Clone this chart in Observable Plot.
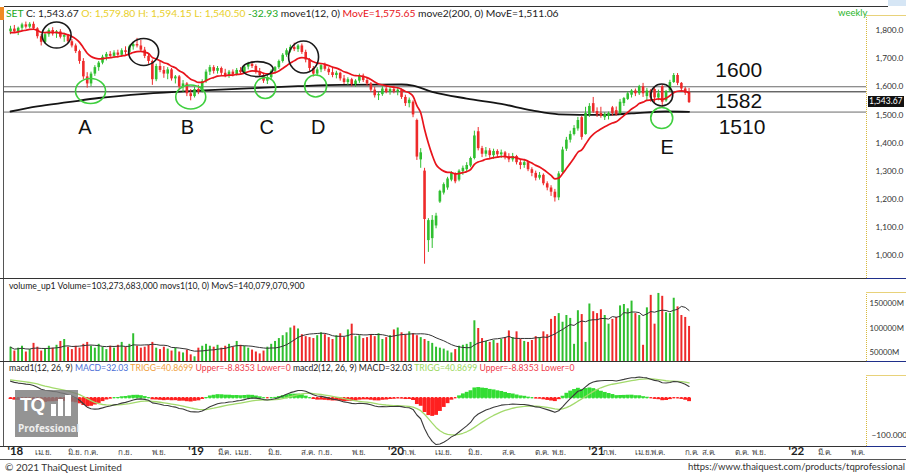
<!DOCTYPE html>
<html><head><meta charset="utf-8">
<script src="https://cdn.jsdelivr.net/npm/d3@7"></script>
<script src="https://cdn.jsdelivr.net/npm/@observablehq/plot@0.6"></script>
<style>
body{margin:0;background:#fff;}
#wrap{position:relative;width:906px;height:475px;overflow:hidden;background:#fff;font-family:Lato,"Open Sans","Noto Sans",sans-serif;color:#222;}
#wrap svg{position:absolute;left:0;}
.ln{position:absolute;}
.txt{position:absolute;white-space:nowrap;font-size:9.5px;line-height:12px;}
</style></head><body><div id="wrap"></div>
<script>
// ---------------- DATA (weekly SET index, from 2018-02-16) ----------------
const firstWeek = "2018-02-16";
const open = [1795,1805,1795,1808,1820,1812,1822,1806,1778,1758,1785,1800,1788,1795,1776,1782,1760,1745,1725,1690,
1635,1610,1645,1668,1684,1705,1715,1708,1720,1712,1728,1722,1742,1750,1745,1730,1708,1690,1625,1672,
1658,1645,1660,1628,1635,1600,1610,1575,1565,1590,1582,1618,1652,1668,1655,1665,1648,1640,1652,1642,
1658,1650,1670,1680,1672,1652,1640,1620,1632,1655,1668,1690,1712,1728,1740,1732,1745,1722,1695,1665,
1645,1660,1675,1662,1650,1640,1648,1628,1615,1625,1608,1620,1638,1622,1610,1588,1568,1572,1592,1580,
1590,1582,1588,1562,1540,1545,1480,1340,1300,1053,1060,1105,1190,1222,1240,1268,1290,1268,1298,1305,
1318,1345,1440,1380,1360,1372,1355,1370,1358,1365,1350,1340,1352,1330,1320,1330,1305,1292,1275,1285,
1255,1240,1225,1205,1295,1378,1410,1430,1450,1490,1430,1500,1540,1512,1505,1490,1495,1525,1515,1505,
1540,1555,1570,1585,1575,1600,1565,1585,1590,1560,1600,1550,1585,1615,1640,1612,1592,1579.80];
const high = [1815,1818,1812,1826,1830,1828,1830,1810,1785,1790,1806,1810,1800,1803,1790,1786,1768,1752,1730,1700,
1650,1652,1675,1690,1712,1722,1725,1728,1730,1735,1742,1748,1758,1772,1765,1740,1715,1695,1680,1690,
1672,1668,1665,1640,1640,1622,1615,1590,1598,1605,1625,1660,1676,1675,1672,1670,1662,1658,1660,1665,
1668,1675,1687,1690,1678,1665,1648,1640,1660,1672,1695,1718,1735,1748,1755,1750,1752,1730,1700,1672,
1668,1682,1684,1668,1665,1655,1652,1640,1632,1630,1625,1645,1645,1630,1615,1598,1580,1600,1605,1598,
1602,1595,1592,1570,1560,1550,1485,1380,1310,1131,1142,1150,1232,1258,1278,1298,1294,1305,1318,1330,
1350,1442,1455,1388,1384,1380,1378,1376,1375,1370,1362,1363,1356,1340,1338,1335,1312,1300,1295,1290,
1262,1248,1235,1298,1385,1420,1442,1462,1491,1495,1527,1540,1562,1525,1527,1508,1510,1530,1528,1555,
1562,1582,1590,1592,1605,1612,1594,1590,1598,1588,1605,1587,1623,1647,1647,1615,1598,1594.15];
const low = [1785,1790,1782,1800,1805,1806,1800,1770,1745,1752,1776,1780,1772,1770,1758,1755,1738,1718,1680,1625,
1595,1600,1637,1655,1678,1692,1700,1700,1702,1706,1712,1716,1730,1738,1722,1700,1680,1605,1618,1650,
1630,1625,1620,1610,1590,1580,1565,1550,1560,1572,1578,1612,1640,1645,1645,1640,1632,1630,1635,1638,
1645,1646,1660,1665,1645,1635,1612,1608,1625,1645,1662,1684,1705,1720,1725,1722,1715,1685,1655,1635,
1640,1650,1655,1640,1632,1628,1620,1608,1605,1600,1598,1612,1615,1602,1580,1560,1551,1566,1575,1570,
1575,1568,1555,1530,1525,1490,1338,1310,969,1011,1025,1095,1185,1215,1232,1262,1255,1262,1285,1298,
1312,1340,1372,1348,1350,1345,1342,1348,1345,1340,1330,1332,1322,1305,1310,1298,1280,1265,1268,1248,
1230,1210,1190,1195,1290,1370,1400,1425,1442,1410,1428,1491,1505,1491,1488,1480,1482,1495,1495,1500,
1530,1551,1560,1565,1569,1562,1550,1545,1540,1550,1527,1545,1580,1612,1604,1580,1569,1540.50];
const close = [1805,1795,1808,1820,1812,1822,1806,1778,1758,1785,1800,1788,1795,1776,1782,1760,1745,1725,1690,1635,
1610,1645,1668,1684,1705,1715,1708,1720,1712,1728,1722,1742,1750,1745,1730,1708,1690,1625,1672,1658,
1645,1660,1628,1635,1600,1610,1575,1565,1590,1582,1618,1652,1668,1655,1665,1648,1640,1652,1642,1658,
1650,1670,1680,1672,1652,1640,1620,1632,1655,1668,1690,1712,1728,1740,1732,1745,1722,1695,1665,1645,
1660,1675,1662,1650,1640,1648,1628,1615,1625,1608,1620,1638,1622,1610,1588,1568,1572,1592,1580,1590,
1582,1588,1562,1540,1552,1500,1350,1365,1128,1124,1125,1140,1228,1252,1272,1292,1262,1300,1310,1320,
1345,1425,1380,1360,1372,1355,1370,1358,1365,1350,1340,1352,1330,1320,1330,1305,1292,1275,1285,1255,
1240,1225,1205,1290,1375,1410,1430,1452,1480,1420,1505,1530,1510,1500,1495,1502,1505,1505,1500,1545,
1558,1575,1585,1575,1600,1575,1585,1560,1560,1575,1545,1582,1615,1640,1612,1592,1576.60,1543.67];
// weekly volume, billion shares
const volume = [60,52,58,62,50,55,68,60,52,56,62,
58,64,72,76,60,55,62,58,66,70,
62,58,66,60,55,62,58,64,70,60,
66,88,62,58,60,64,70,58,55,60,
56,52,58,50,48,54,44,40,58,62,
66,62,60,64,58,62,66,60,72,64,
62,58,54,50,46,52,60,66,72,78,
84,90,100,104,98,86,82,80,78,84,
90,86,80,76,84,88,80,96,108,82,
84,78,80,86,82,88,76,80,84,96,
100,90,86,92,88,84,80,76,72,68,
60,58,56,52,48,55,62,64,66,70,
115,99,78,72,70,74,68,76,80,94,
80,92,76,72,70,74,82,80,92,86,
118,124,130,112,126,120,66,136,128,70,
150,134,130,138,126,108,118,122,146,149,
140,156,130,126,64,142,168,108,172,166,
132,130,162,144,126,122,103.27];
// 200-week moving average
const ma200Dates = ["2018-02-16","2018-04-06","2018-06-01","2018-07-27","2018-10-19","2019-01-25","2019-04-26","2019-07-26","2019-10-11","2020-01-31","2020-02-21","2020-03-27","2020-05-29","2020-07-31","2020-09-25","2020-11-13","2021-01-29","2021-03-26","2021-05-28","2021-07-09"];
const ma200Values = [1512,1530,1545,1560,1575,1586,1594,1602,1607,1608,1604,1582,1558,1539,1516,1502,1500,1505,1512,1511];
// indicator seeds (values carried in from before the visible window)
const ema12Seed = 1790, ema26Seed = 1742, signalSeed = 50;
// support / resistance levels
const levels = [1600, 1582, 1510];
const priceTicks = [1000,1100,1200,1300,1400,1500,1600,1700,1800];
const volTicks = [50,100,150];
const macdTicks = [-100];
// axis labels
const tickDates = ["2018-02-05","2018-04-01","2018-06-01","2018-07-01","2018-09-01","2018-11-01","2019-01-01","2019-03-01","2019-04-01","2019-06-01","2019-08-01","2019-09-01","2019-11-01","2020-01-01","2020-02-01","2020-04-01","2020-06-01","2020-08-01","2020-10-01","2020-11-01","2021-01-01","2021-02-01","2021-04-01","2021-05-01","2021-07-01","2021-08-01","2021-10-01","2021-11-01","2022-01-01","2022-03-01","2022-05-01"];
const tickLabels = ["'18","เม.ย.","มิ.ย.","ก.ค.","ก.ย.","พ.ย.","'19","มี.ค.","เม.ย.","มิ.ย.","ส.ค.","ก.ย.","พ.ย.","'20","ก.พ.","เม.ย.","มิ.ย.","ส.ค.","ต.ค.","พ.ย.","'21","ก.พ.","เม.ย.","พ.ค.","ก.ค.","ส.ค.","ต.ค.","พ.ย.","'22","มี.ค.","พ.ค."];
// annotations
const letterNames = ["A","B","C","D","E"];
const letterDates = ["2018-07-02","2019-01-05","2019-05-30","2019-09-01","2021-05-30"];
const letterPrices = [1455,1455,1455,1455,1384];
const ringDates = ["2018-05-12","2018-10-18","2019-05-14","2019-08-06","2021-05-21","2018-07-13","2019-01-12","2019-05-28","2019-08-28","2021-05-21"];
const ringPrices = [1782,1722,1661,1704,1569,1583,1562,1594,1601,1487];
const ringKinds = ["top","top","top","top","top","base","base","base","base","base"];

// ---------------- BUILD ----------------
const W = 906;
const up = "#2fbf2f", down = "#ee2a2a";
const parse = s => new Date(s + "T00:00:00Z");
const t0 = parse(firstWeek).getTime();
const emaOf = (arr, n, seed) => { const a = 2/(n+1); let e = seed; return arr.map(v => (e = e + a*(v - e))); };
const ema12 = emaOf(close, 12, ema12Seed);
const e26 = emaOf(close, 26, ema26Seed);
const macd = ema12.map((v,i) => v - e26[i]);
const signal = emaOf(macd, 9, signalSeed);
const rows = close.map((c,i) => ({
  date: new Date(t0 + i*7*864e5), o: open[i], h: high[i], l: low[i], c,
  v: volume[i], col: c >= open[i] ? up : down, ema: ema12[i],
  macd: macd[i], sig: signal[i], hist: macd[i] - signal[i]
}));
rows.forEach(r => r.hcol = r.hist >= 0 ? "#33dd33" : "#ff2020");
const ma = ma200Dates.map((d,i) => ({date: parse(d), v: ma200Values[i]}));
const xDomain = [parse("2018-02-05"), parse("2022-05-29")];
const common = {width: W, marginLeft: 4, marginRight: 40, marginTop: 0, marginBottom: 0,
  color: {type: "identity"}, style: {background: "transparent", fontFamily: "Lato, 'Open Sans', sans-serif", color: "#222", overflow: "visible"}};
const bigFont = "'Liberation Sans', Arial, sans-serif";

const wrap = document.getElementById("wrap");
function place(el, top){ el.style.top = top + "px"; wrap.appendChild(el); }

// Price panel
const price = Plot.plot({...common, height: 278,
  x: {type: "utc", domain: xDomain, axis: null},
  y: {domain: [918.22, 1906.67], label: null},
  marks: [
    Plot.ruleY([levels[0]], {stroke: "#6a6a6a", strokeWidth: 1}),
    Plot.ruleY([levels[1]], {stroke: "#222", strokeWidth: 1}),
    Plot.ruleY([levels[2]], {stroke: "#6a6a6a", strokeWidth: 1}),
    Plot.line(ma, {x: "date", y: "v", stroke: "#151515", strokeWidth: 1.8, curve: "monotone-x"}),
    Plot.ruleX(rows, {x: "date", y1: "l", y2: "h", stroke: "col", strokeWidth: 1}),
    Plot.ruleX(rows, {x: "date", y1: "o", y2: "c", stroke: "col", strokeWidth: 2.6}),
    Plot.line(rows, {x: "date", y: "ema", stroke: "#e8141c", strokeWidth: 1.7, curve: "monotone-x"}),
    Plot.text(letterNames, {x: (d,i) => parse(letterDates[i]), y: (d,i) => letterPrices[i], text: d => d, fontSize: 20, fontFamily: bigFont, fill: "#111"}),
    Plot.text([levels[0]], {x: () => parse("2021-08-26"), y: d => d, text: d => String(d), textAnchor: "start", dy: -16, fontSize: 21, fontFamily: bigFont, fill: "#111"}),
    Plot.text([levels[1]], {x: () => parse("2021-08-26"), y: d => d, text: d => String(d), textAnchor: "start", dy: 9, fontSize: 21, fontFamily: bigFont, fill: "#111"}),
    Plot.text([levels[2]], {x: () => parse("2021-09-01"), y: d => d, text: d => String(d), textAnchor: "start", dy: 15.5, fontSize: 21, fontFamily: bigFont, fill: "#111"}),
    Plot.axisY({anchor: "right", label: null, ticks: priceTicks, tickFormat: d3.format(",.1f"), tickSize: 0, tickPadding: 9, fontSize: 8.3, fill: "#333"})
  ]});
place(price, 0);

// rings (ellipses) placed through the price plot's own scales
const sx = price.scale("x"), sy = price.scale("y");
const ringSize = {top: [[14.5,13],[15,13.5],[15.5,7.5],[15,16],[11,11]], base: [[15,12.5],[15,12],[10.5,10.5],[11,11],[11,10.5]]};
const g = d3.select(price).append("g");
let ti = 0, bi = 0;
ringDates.forEach((d,i) => {
  const kind = ringKinds[i];
  const [rx, ry] = kind === "top" ? ringSize.top[ti++] : ringSize.base[bi++];
  g.append("ellipse").attr("cx", sx.apply(parse(d))).attr("cy", sy.apply(ringPrices[i]))
    .attr("rx", rx).attr("ry", ry).attr("fill", "none")
    .attr("stroke", kind === "top" ? "#1a1a1a" : "#3fcf3f").attr("stroke-width", 1.6);
});

// Volume panel
const vol = Plot.plot({...common, height: 82,
  x: {type: "utc", domain: xDomain, axis: null},
  y: {domain: [30.21, 201.04], label: null},
  marks: [
    Plot.ruleX(rows, {x: "date", y1: () => 30.21, y2: "v", stroke: "col", strokeWidth: 2}),
    Plot.lineY(rows, Plot.windowY({k: 10, anchor: "end", reduce: "mean", strict: false}, {x: "date", y: "v", stroke: "#333", strokeWidth: 1})),
    Plot.axisY({anchor: "right", label: null, ticks: volTicks, tickFormat: d => (d*1000) + "M", tickSize: 0, tickPadding: 3, fontSize: 7.8, fill: "#333"})
  ]});
place(vol, 279);

// MACD panel + time axis
const mac = Plot.plot({...common, height: 100, marginBottom: 16,
  x: {type: "utc", domain: xDomain, axis: null},
  y: {domain: [-129.4, 95.7], label: null},
  marks: [
    Plot.ruleX(rows, {x: "date", y1: 0, y2: "hist", stroke: "hcol", strokeWidth: 3.9}),
    Plot.ruleX(rows, {x: "date", y1: -1.8, y2: 1.8, stroke: "hcol", strokeWidth: 2.4}),
    Plot.line(rows, {x: "date", y: "sig", stroke: "#a3da6c", strokeWidth: 1.3}),
    Plot.line(rows, {x: "date", y: "macd", stroke: "#3a3a3a", strokeWidth: 1.1}),
    Plot.axisY({anchor: "right", label: null, ticks: macdTicks, tickFormat: d3.format(".3f"), tickSize: 0, tickPadding: 5, fontSize: 8.3, fill: "#333"}),
    Plot.text(tickLabels.filter(s => s.startsWith("'")), {x: s => parse(tickDates[tickLabels.indexOf(s)]), text: d => d, frameAnchor: "bottom", dy: 8, dx: 3, textAnchor: "start", fontSize: 11.5, fontWeight: "bold", fill: "#222"}),
    Plot.text(tickLabels.map((s,i) => i).filter(i => !tickLabels[i].startsWith("'")), {x: i => parse(tickDates[i]), text: i => tickLabels[i], frameAnchor: "bottom", dy: 8, textAnchor: "start", fontSize: 8, fill: "#444"})
  ]});
place(mac, 362);

// current price marker
const lastRow = rows[rows.length - 1];
const tag = document.createElement("div");
tag.className = "txt";
Object.assign(tag.style, {left: "868px", top: (sy.apply(lastRow.c) - 6) + "px", background: "#111", color: "#fff", fontSize: "8.5px", lineHeight: "11px", padding: "0 1px"});
tag.textContent = d3.format(",.2f")(lastRow.c);
wrap.appendChild(tag);

// frame lines
function line(css){ const d = document.createElement("div"); d.className = "ln"; Object.assign(d.style, css); wrap.appendChild(d); }
line({left: "4px", top: "6px", width: "884px", height: "0", borderTop: "1.5px solid #333"});
line({left: "888px", top: "0", width: "18px", height: "6px", background: "#d6e6f5"});
line({left: "0", top: "7px", width: "4px", height: "13px", background: "#f08a24"});
line({left: "3px", top: "20px", width: "0", height: "426px", borderLeft: "1px solid #555"});
[278, 361, 446].forEach(y => { line({left: "0", top: y + "px", width: "866px", height: "0", borderTop: "1.2px solid #333"}); line({left: "866px", top: y + "px", width: "40px", height: "0", borderTop: "1.5px solid #1f2f8a"}); });
line({left: "0", top: "459px", width: "906px", height: "0", borderTop: "1px solid #555"});
[[15,278],[292,361],[375,446]].forEach(([a,b]) => { line({left: "866px", top: a + "px", width: "0", height: (b-a) + "px", borderLeft: "1.5px dotted #d8b93a"}); line({left: "866px", top: a + "px", width: "40px", height: "0", borderTop: "1px solid #e8d27a"}); });

// header texts
function txt(html, left, top, css){ const d = document.createElement("div"); d.className = "txt"; d.innerHTML = html; Object.assign(d.style, {left: left + "px", top: top + "px"}, css || {}); wrap.appendChild(d); return d; }
txt('<span style="color:#22a822">SET</span> C: 1,543.67 <span style="color:#e9cf2a">O: 1,579.80 H: 1,594.15 L: 1,540.50</span> <span style="color:#22a822">-32.93</span> move1(12, 0) <span style="color:#e8141c">MovE=1,575.65</span> move2(200, 0) MovE=1,511.06', 6, 7, {fontSize: "10.3px"});
txt('<span style="color:#2bb52b">weekly</span>', 838, 7);
txt('volume_up1 Volume=103,273,683,000 movs1(10, 0) MovS=140,079,070,900', 9, 280, {fontSize: "8.7px"});
txt('macd1(12, 26, 9) <span style="color:#4b6fd6">MACD=32.03</span> <span style="color:#f0a040">TRIGG=40.8699</span> <span style="color:#ef3b4c">Upper=-8.8353 Lower=0</span> macd2(12, 26, 9) MACD=32.03 <span style="color:#9bd860">TRIGG=40.8699</span> <span style="color:#ef3b4c">Upper=-8.8353 Lower=0</span>', 9, 362, {fontSize: "8.7px"});
txt('© 2021 ThaiQuest Limited', 5, 461, {fontSize: "10px", color: "#333"});
const url = txt('https://www.thaiquest.com/products/tqprofessional', 0, 461, {fontSize: "9.5px", color: "#333"});
url.style.left = ""; url.style.right = "1px";

// TQ Professional logo
const logo = document.createElement("div");
Object.assign(logo.style, {position: "absolute", left: "15px", top: "390px", width: "63px", height: "47px", background: "rgba(125,125,125,0.82)"});
logo.innerHTML = '<div style="position:absolute;left:5px;top:4px;color:#fff;font:bold 19px \'Liberation Sans\',Arial,sans-serif;letter-spacing:-1px">TQ</div>'
 + '<div style="position:absolute;left:36px;top:14px;width:5px;height:12px;background:#fff"></div>'
 + '<div style="position:absolute;left:43px;top:9px;width:5px;height:17px;background:#fff"></div>'
 + '<div style="position:absolute;left:50px;top:5px;width:6px;height:21px;background:#fff"></div>'
 + '<div style="position:absolute;left:3px;top:31px;color:#eee;font:bold 10px \'Open Sans\',sans-serif">Professional</div>';
wrap.appendChild(logo);
</script></body></html>
